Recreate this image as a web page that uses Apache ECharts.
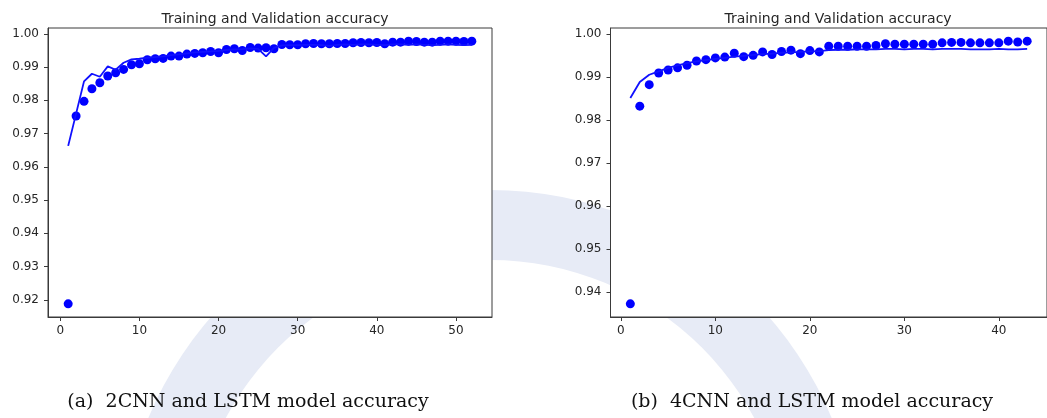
<!DOCTYPE html>
<html>
<head>
<meta charset="utf-8">
<script src="https://cdn.jsdelivr.net/npm/echarts@6/dist/echarts.min.js"></script>
<style>
  html, body { margin: 0; padding: 0; background: #fff; }
  #chart { width: 1047px; height: 418px; }
</style>
</head>
<body>
<div id="chart"></div>
<script>
// (a) 2CNN + LSTM: per-epoch accuracy
const trainAccA = [0.9188, 0.9753, 0.9797, 0.9835, 0.9853, 0.9873, 0.9883, 0.9893, 0.9907, 0.9910,
  0.9922, 0.9925, 0.9926, 0.9933, 0.9933, 0.9939, 0.9941, 0.9943, 0.9947, 0.9943,
  0.9953, 0.9955, 0.9950, 0.9959, 0.9957, 0.9958, 0.9955, 0.9968, 0.9967, 0.9967,
  0.9970, 0.9971, 0.9970, 0.9970, 0.9971, 0.9971, 0.9973, 0.9974, 0.9973, 0.9974,
  0.9970, 0.9975, 0.9975, 0.9978, 0.9977, 0.9975, 0.9975, 0.9978, 0.9978, 0.9978,
  0.9977, 0.9978];
const valAccA = [0.9663, 0.9760, 0.9857, 0.9880, 0.9871, 0.9902, 0.9892, 0.9913, 0.9923, 0.9925,
  0.9928, 0.9930, 0.9932, 0.9936, 0.9938, 0.9941, 0.9944, 0.9946, 0.9947, 0.9949,
  0.9952, 0.9953, 0.9954, 0.9956, 0.9955, 0.9932, 0.9958, 0.9965, 0.9966, 0.9966,
  0.9967, 0.9967, 0.9966, 0.9964, 0.9967, 0.9968, 0.9967, 0.9968, 0.9968, 0.9967,
  0.9966, 0.9968, 0.9968, 0.9967, 0.9968, 0.9967, 0.9966, 0.9967, 0.9968, 0.9967,
  0.9966, 0.9967];

// (b) 4CNN + LSTM: per-epoch accuracy
const trainAccB = [0.9373, 0.9832, 0.9882, 0.9909, 0.9916, 0.9921, 0.9927, 0.9937, 0.9940, 0.9944,
  0.9946, 0.9955, 0.9947, 0.9950, 0.9958, 0.9952, 0.9959, 0.9962, 0.9954, 0.9961,
  0.9958, 0.9971, 0.9971, 0.9971, 0.9971, 0.9971, 0.9973, 0.9977, 0.9976, 0.9976,
  0.9976, 0.9976, 0.9976, 0.9979, 0.9980, 0.9980, 0.9979, 0.9979, 0.9979, 0.9979,
  0.9983, 0.9981, 0.9983];
const valAccB = [0.9851, 0.9888, 0.9905, 0.9913, 0.9921, 0.9927, 0.9932, 0.9936, 0.9939, 0.9942,
  0.9944, 0.9947, 0.9949, 0.9951, 0.9953, 0.9954, 0.9956, 0.9957, 0.9958, 0.9959,
  0.9960, 0.9962, 0.9963, 0.9963, 0.9964, 0.9964, 0.9964, 0.9965, 0.9965, 0.9964,
  0.9965, 0.9965, 0.9964, 0.9965, 0.9965, 0.9965, 0.9964, 0.9964, 0.9964, 0.9965,
  0.9964, 0.9964, 0.9965];

// Tick labels
const xTicksA = [0, 10, 20, 30, 40, 50];
const yTicksA = [0.92, 0.93, 0.94, 0.95, 0.96, 0.97, 0.98, 0.99, 1.00];
const xTicksB = [0, 10, 20, 30, 40];
const yTicksB = [0.94, 0.95, 0.96, 0.97, 0.98, 0.99, 1.00];

const chartTitle = 'Training and Validation accuracy';
const captionA = '(a)  2CNN and LSTM model accuracy';
const captionB = '(b)  4CNN and LSTM model accuracy';

// ---------------------------------------------------------------------------
const BLUE = '#0000ff';
const SPINE = '#3a3a3a';
const TEXT = '#262626';
const SANS = 'DejaVu Sans';

const toPairs = arr => arr.map((v, i) => [i + 1, v]);

// autoscale with 5% padding on each side
function padded(lo, hi) {
  const p = (hi - lo) * 0.05;
  return { min: lo - p, max: hi + p };
}
function yRange(a, b) {
  const all = a.concat(b);
  return padded(Math.min.apply(null, all), Math.max.apply(null, all));
}

const xrA = padded(1, trainAccA.length);
const yrA = yRange(trainAccA, valAccA);
const xrB = padded(1, trainAccB.length);
const yrB = yRange(trainAccB, valAccB);

function xAxisDef(grid, range, ticks) {
  return {
    type: 'value', gridIndex: grid, min: range.min, max: range.max,
    axisLine: { show: true, onZero: false, lineStyle: { color: SPINE, width: 1 } },
    axisTick: { show: true, inside: false, length: 4, customValues: ticks, lineStyle: { color: SPINE } },
    axisLabel: { customValues: ticks, color: TEXT, fontFamily: SANS, fontSize: 12, margin: 8 },
    splitLine: { show: false }
  };
}
function yAxisDef(grid, range, ticks) {
  return {
    type: 'value', gridIndex: grid, min: range.min, max: range.max,
    axisLine: { show: true, onZero: false, lineStyle: { color: SPINE, width: 1 } },
    axisTick: { show: true, inside: false, length: 4, customValues: ticks, lineStyle: { color: SPINE } },
    axisLabel: { customValues: ticks, color: TEXT, fontFamily: SANS, fontSize: 12, margin: 9,
      formatter: v => v.toFixed(2) },
    splitLine: { show: false }
  };
}
function dots(idx, arr) {
  return {
    type: 'scatter', xAxisIndex: idx, yAxisIndex: idx, data: toPairs(arr),
    symbol: 'circle', symbolSize: 9, itemStyle: { color: BLUE, opacity: 1 }, z: 2, silent: true
  };
}
function curve(idx, arr) {
  return {
    type: 'line', xAxisIndex: idx, yAxisIndex: idx, data: toPairs(arr),
    showSymbol: false, lineStyle: { color: '#1010ff', width: 1.8 }, z: 3, silent: true
  };
}

const chart = echarts.init(document.getElementById('chart'), null, { renderer: 'canvas' });

const option = {
  backgroundColor: '#ffffff',
  animation: false,
  title: [
    { text: chartTitle, left: 270, top: 7, textAlign: 'center',
      textStyle: { fontFamily: SANS, fontSize: 14, fontWeight: 'normal', color: TEXT } },
    { text: chartTitle, left: 833, top: 7, textAlign: 'center',
      textStyle: { fontFamily: SANS, fontSize: 14, fontWeight: 'normal', color: TEXT } }
  ],
  grid: [
    { left: 48, top: 28, width: 444, height: 289, show: true, backgroundColor: '#ffffff',
      borderColor: SPINE, borderWidth: 1, containLabel: false },
    { left: 610.5, top: 28, width: 445, height: 289, show: true, backgroundColor: '#ffffff',
      borderColor: SPINE, borderWidth: 1, containLabel: false }
  ],
  xAxis: [xAxisDef(0, xrA, xTicksA), xAxisDef(1, xrB, xTicksB)],
  yAxis: [yAxisDef(0, yrA, yTicksA), yAxisDef(1, yrB, yTicksB)],
  series: [dots(0, trainAccA), curve(0, valAccA), dots(1, trainAccB), curve(1, valAccB)],
  graphic: [
    // faint seal ring in the page background
    { type: 'ring', z: -10, silent: true,
      shape: { cx: 490, cy: 560, r: 370, r0: 300 },
      style: { fill: '#e7ebf6' } },
    // sub-figure captions
    { type: 'text', x: 248, y: 402, silent: true,
      style: { text: captionA, fill: '#111111', font: '19px "DejaVu Serif"',
        textAlign: 'center', textVerticalAlign: 'middle' } },
    { type: 'text', x: 812, y: 402, silent: true,
      style: { text: captionB, fill: '#111111', font: '19px "DejaVu Serif"',
        textAlign: 'center', textVerticalAlign: 'middle' } }
  ]
};

chart.setOption(option);
</script>
</body>
</html>
